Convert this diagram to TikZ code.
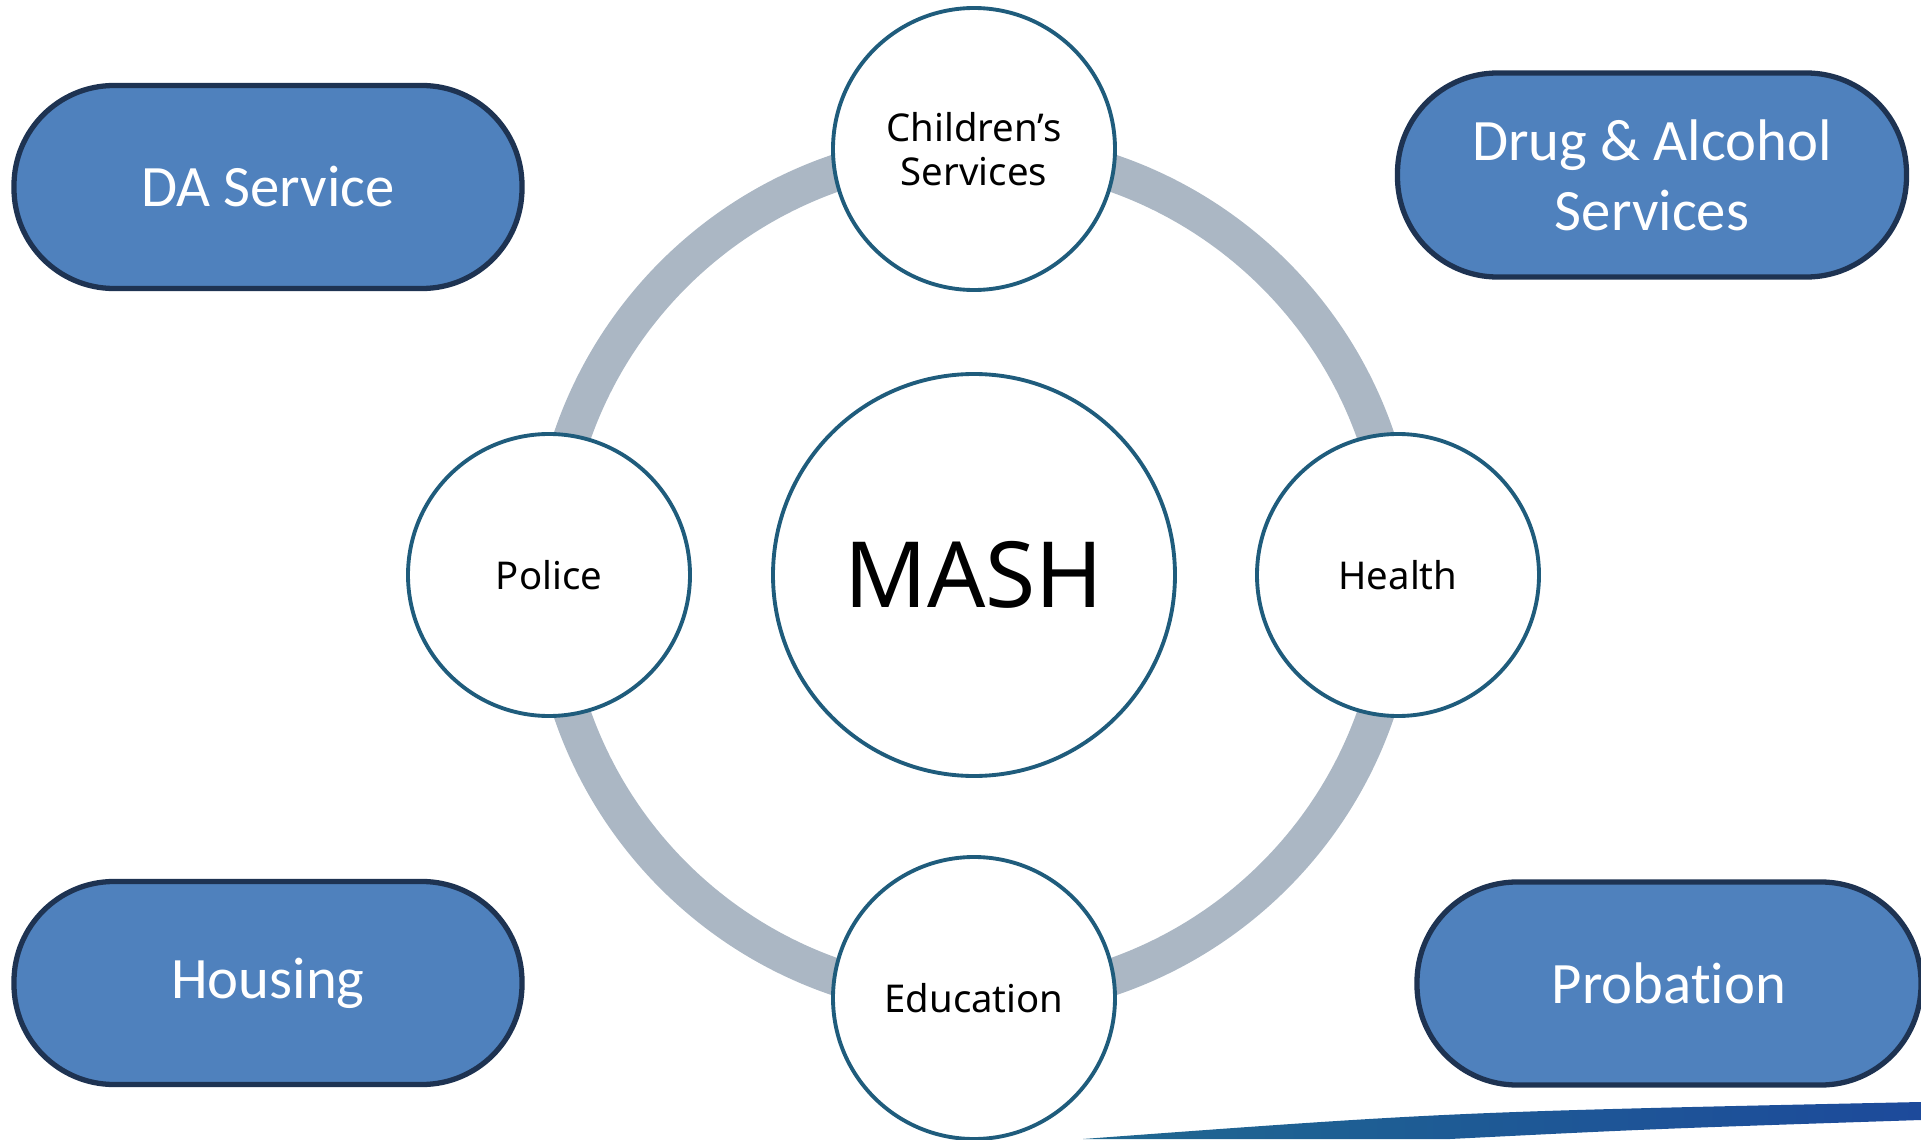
\documentclass[tikz,border=0pt]{standalone}
\usepackage{fontspec}
\usepackage{xcolor}
\usepackage{tikz}
\usetikzlibrary{shapes,positioning,fit,backgrounds}
\newfontfamily\boxfont[Ligatures=NoCommon]{Carlito}
\newfontfamily\ringfont{Noto Sans}
\definecolor{ringgray}{HTML}{ABB7C4}
\definecolor{hubedge}{HTML}{1F5C7C}
\definecolor{agencyfill}{HTML}{4F81BD}
\definecolor{agencyedge}{HTML}{1E3352}
\definecolor{swooshleft}{HTML}{1F6890}
\definecolor{swooshright}{HTML}{1D4A9B}
\tikzset{
    every node/.style={font=\ringfont\fontsize{10.9}{12.5}\selectfont}
}

\begin{document}
\begin{tikzpicture}
            % Define styles for hub and agencies
            \tikzstyle{hub} = [circle, draw=hubedge, line width=1.1pt, fill=white,
                inner sep=0pt, minimum size=2.82cm, align=center]
            \tikzstyle{agency} = [rectangle, rounded corners=1cm, draw=agencyedge,
                line width=1.5pt, fill=agencyfill, text=white, align=center,
                minimum width=5.08cm, minimum height=2.03cm,
                font=\boxfont\fontsize{16.7}{20}\selectfont]
            \useasboundingbox (0,0) rectangle (19.21,11.39);
            
            % Draw the ring behind the partners
            \coordinate (centre) at (9.74,5.64);
            \draw[ringgray, line width=10.5pt] (centre) circle (4.25);
            
            % Draw MASH and its four partners
            \node[hub, minimum size=4.02cm, font=\ringfont\fontsize{26}{30}\selectfont]
                (mash) at (centre) {MASH};
            \node[hub] (children) at (9.74,9.90) {Children’s\\Services};
            \node[hub] (police) at (5.49,5.64) {Police};
            \node[hub] (health) at (13.98,5.64) {Health};
            \node[hub] (education) at (9.74,1.41) {Education};
            
            % Draw outer agencies
            \node[agency] (da) at (2.68,9.52) {DA Service};
            \node[agency, minimum width=5.09cm, minimum height=2.04cm]
                (drug) at (16.52,9.64) {Drug \& Alcohol\\Services};
            \node[agency] (housing) at (2.68,1.56) {Housing};
            \node[agency, minimum width=5.04cm] (probation) at (16.69,1.555) {Probation};
            
            % Add swoosh at the bottom
            \shade[left color=swooshleft, right color=swooshright]
                (10.83,0) .. controls (14.5,0.27) .. (19.21,0.37)
                -- (19.21,0.19) .. controls (16.5,0.1) .. (14.5,0) -- cycle;
        \end{tikzpicture}
\end{document}
